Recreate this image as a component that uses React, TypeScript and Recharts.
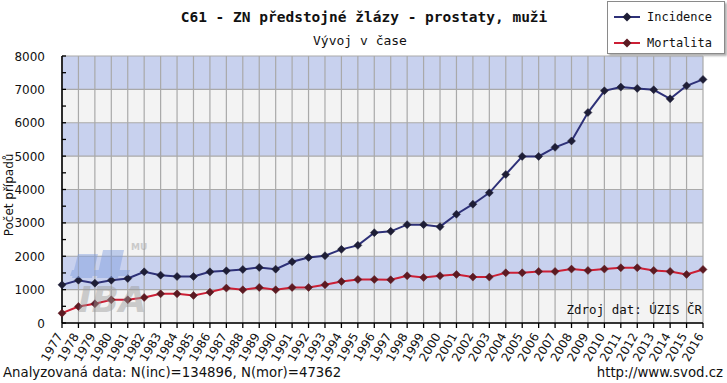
import React from 'react';
import { LineChart, Line, XAxis, YAxis, CartesianGrid, Legend } from 'recharts';

const years = ['1977','1978','1979','1980','1981','1982','1983','1984','1985','1986','1987','1988','1989','1990','1991','1992','1993','1994','1995','1996','1997','1998','1999','2000','2001','2002','2003','2004','2005','2006','2007','2008','2009','2010','2011','2012','2013','2014','2015','2016'];
const incidence = [1143,1283,1193,1283,1333,1534,1434,1393,1393,1534,1564,1604,1664,1614,1835,1965,2015,2206,2326,2707,2747,2947,2947,2887,3258,3559,3900,4451,4992,4992,5263,5454,6306,6958,7068,7028,6988,6717,7108,7298];
const mortality = [295,495,575,695,695,765,875,875,825,925,1045,995,1065,995,1065,1065,1145,1245,1305,1305,1295,1415,1365,1415,1455,1375,1375,1505,1505,1545,1545,1615,1575,1615,1655,1655,1575,1545,1455,1605];
const yTicks = [0,500,1000,1500,2000,2500,3000,3500,4000,4500,5000,5500,6000,6500,7000,7500,8000];
const yMajor = [0,1000,2000,3000,4000,5000,6000,7000,8000];
const seriesNames = ['Incidence','Mortalita'];

const data = years.map((y, i) => ({ year: y, Incidence: incidence[i], Mortalita: mortality[i] }));

const INC_LINE = '#2e3178';
const INC_DOT = '#1e1e36';
const MOR_LINE = '#cc1f35';
const MOR_DOT = '#5c1a22';
const MONO = '"DejaVu Sans Mono", monospace';
const SANS = '"DejaVu Sans", sans-serif';

const makeDot = (fill: string) => (props: any) => {
  const { cx, cy, index } = props;
  if (cx == null || cy == null) return <g key={index} />;
  const r = 4;
  return (
    <polygon
      key={index}
      points={`${cx},${cy - r} ${cx + r},${cy} ${cx},${cy + r} ${cx - r},${cy}`}
      fill={fill}
      stroke={fill}
      strokeWidth={0.5}
    />
  );
};

const YTick = (props: any) => {
  const { x, y, payload } = props;
  const major = payload.value % 1000 === 0;
  return (
    <g>
      <line x1={x} x2={x + 4} y1={y} y2={y} stroke="#000" strokeWidth={1.3} />
      {major && (
        <text x={x - 17} y={y} dy={4.5} textAnchor="end" fontFamily={SANS} fontSize={12} fill="#111">
          {payload.value}
        </text>
      )}
    </g>
  );
};

const XTick = (props: any) => {
  const { x, y, payload } = props;
  return (
    <text
      x={x + 1}
      y={y}
      textAnchor="end"
      transform={`rotate(-60, ${x + 1}, ${y})`}
      fontFamily={SANS}
      fontSize={12}
      fill="#111"
    >
      {payload.value}
    </text>
  );
};

const LegendBox = () => {
  const rows = [
    { name: seriesNames[0], line: INC_LINE, dot: INC_DOT, y: 15 },
    { name: seriesNames[1], line: MOR_LINE, dot: MOR_DOT, y: 41 },
  ];
  return (
    <div style={{ position: 'relative', width: 116, height: 51, border: '1px solid #8a8a8a', background: '#fff', boxShadow: '2px 2px 2px #b0b0b0' }}>
      {rows.map((r) => (
        <React.Fragment key={r.name}>
          <svg width={30} height={12} style={{ position: 'absolute', left: 4, top: r.y - 6 }}>
            <line x1={2} x2={28} y1={6} y2={6} stroke={r.line} strokeWidth={2} />
            <polygon points="15,1.5 19.5,6 15,10.5 10.5,6" fill={r.dot} />
          </svg>
          <span style={{ position: 'absolute', left: 39, top: r.y - 8, fontFamily: MONO, fontSize: 12, lineHeight: '16px', color: '#111', whiteSpace: 'nowrap' }}>
            {r.name}
          </span>
        </React.Fragment>
      ))}
    </div>
  );
};

export default function App() {
  return (
    <div style={{ position: 'absolute', left: 0, top: 0, width: 727, height: 383, background: '#fff', overflow: 'hidden' }}>
      <LineChart width={727} height={383} data={data} margin={{ top: 56, right: 24, bottom: 10, left: 12 }}>
        <CartesianGrid
          stroke="#a9a9a9"
          strokeWidth={1.2}
          horizontalValues={yMajor}
          horizontalFill={['#c8d1ee', '#f3f3f3']}
          fillOpacity={1}
        />
        <XAxis
          dataKey="year"
          type="category"
          padding={{ left: 0, right: 0 }}
          interval={0}
          height={50}
          tickSize={5}
          tickMargin={8}
          axisLine={{ stroke: '#000', strokeWidth: 1.5 }}
          tickLine={{ stroke: '#000', strokeWidth: 1.3 }}
          tick={<XTick />}
        />
        <YAxis
          domain={[0, 8000]}
          ticks={yTicks}
          interval={0}
          width={50}
          tickSize={0}
          tickMargin={0}
          axisLine={{ stroke: '#000', strokeWidth: 1.5 }}
          tickLine={false}
          tick={<YTick />}
        />
        <Legend
          layout="vertical"
          align="center"
          verticalAlign="middle"
          wrapperStyle={{ position: 'absolute', left: 607, top: 1, width: 118, height: 53 }}
          content={<LegendBox />}
        />
        <Line
          type="linear"
          dataKey="Incidence"
          stroke={INC_LINE}
          strokeWidth={2}
          dot={makeDot(INC_DOT)}
          activeDot={false}
          isAnimationActive={false}
        />
        <Line
          type="linear"
          dataKey="Mortalita"
          stroke={MOR_LINE}
          strokeWidth={2}
          dot={makeDot(MOR_DOT)}
          activeDot={false}
          isAnimationActive={false}
        />
      </LineChart>
      <svg width={727} height={383} style={{ position: 'absolute', left: 0, top: 0, pointerEvents: 'none' }}>
        <g opacity={0.45}>
          <polygon points="78,254 98,254 92,278 72,278" fill="#7f9de0" />
          <polygon points="103,250 124,250 118,278 97,278" fill="#7f9de0" />
          <polygon points="72,270 130,270 128,276 70,276" fill="#7f9de0" />
          <text x={131} y={250} fontFamily={SANS} fontSize={9} fontWeight="bold" fill="#9a9a9a">MU</text>
          <text x={78} y={312} fontFamily={SANS} fontSize={36} fontWeight="bold" fontStyle="italic" fill="#9a9a9a">IBA</text>
        </g>
        <text x={364} y={22} textAnchor="middle" fontFamily={MONO} fontSize={14.5} fontWeight="bold" fill="#111">
          C61 - ZN předstojné žlázy - prostaty, muži
        </text>
        <text x={360} y={45} textAnchor="middle" fontFamily={MONO} fontSize={13} fill="#111">
          Vývoj v čase
        </text>
        <text x={702} y={314} textAnchor="end" fontFamily={MONO} fontSize={12.5} fill="#111">
          Zdroj dat: ÚZIS ČR
        </text>
        <text x={3} y={377} fontFamily={SANS} fontSize={13.3} fill="#111">
          Analyzovaná data: N(inc)=134896, N(mor)=47362
        </text>
        <text x={723} y={377} textAnchor="end" fontFamily={SANS} fontSize={13.3} fill="#111">
          http://www.svod.cz
        </text>
        <text x={13} y={195} textAnchor="middle" transform="rotate(-90, 13, 195)" fontFamily={SANS} fontSize={12} fill="#111">
          Počet případů
        </text>
      </svg>
    </div>
  );
}
